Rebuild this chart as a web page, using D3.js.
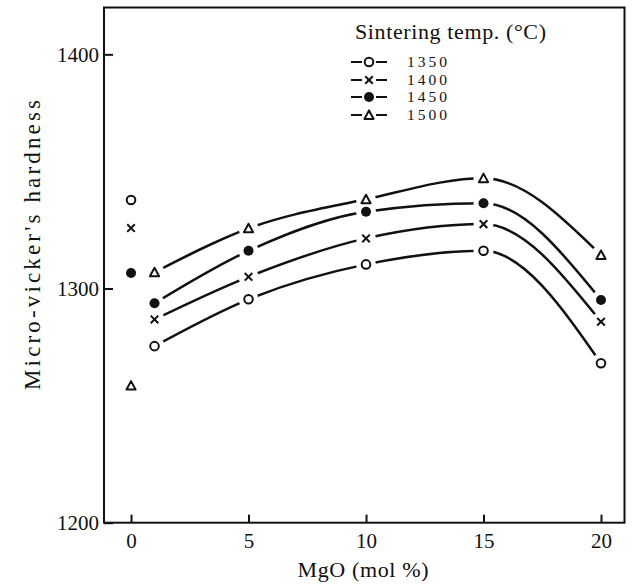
<!DOCTYPE html>
<html><head><meta charset="utf-8">
<script src="https://cdn.jsdelivr.net/npm/d3@7"></script>
<style>body{margin:0;background:#fff}svg{display:block}text{font-family:"Liberation Serif","DejaVu Serif",serif;fill:#111}</style>
</head><body>
<script>
// Data
const mgo = [0, 1, 5, 10, 15, 20];
const temps = ["1350", "1400", "1450", "1500"];
const symbols = ["circle", "cross", "dot", "triangle"];
const h1350 = [1337.8, 1275.4, 1295.4, 1310.3, 1316.1, 1268.1];
const h1400 = [1325.8, 1286.8, 1305.0, 1321.4, 1327.5, 1285.8];
const h1450 = [1306.6, 1293.7, 1316.1, 1332.8, 1336.4, 1295.1];
const h1500 = [1258.5, 1306.9, 1325.7, 1338.1, 1347.1, 1314.3];
const xTicks = [0, 5, 10, 15, 20];
const yTicks = [1200, 1300, 1400];
const series = [h1350, h1400, h1450, h1500];

const W = 633, H = 586;
const svg = d3.select("body").append("svg").attr("width", W).attr("height", H);
const x = d3.scaleLinear().domain([-1.15, 21.0]).range([104, 624.5]);
const y = d3.scaleLinear().domain([1200, 1420]).range([522.7, 7.5]);

const defs = svg.append("defs");
const ink = "#111";

// frame
svg.append("rect").attr("x", x.range()[0]).attr("y", y.range()[1])
  .attr("width", x.range()[1]-x.range()[0]).attr("height", y.range()[0]-y.range()[1])
  .attr("fill", "none").attr("stroke", ink).attr("stroke-width", 2);

// axes (ticks inward)
const xAxis = d3.axisBottom(x).tickValues(xTicks).tickSizeInner(-8).tickSizeOuter(0).tickPadding(10);
const gx = svg.append("g").attr("transform", `translate(0,${y(1200)})`).call(xAxis);
gx.select(".domain").remove();
gx.selectAll("line").attr("stroke", ink).attr("stroke-width", 2);
gx.selectAll("text").attr("font-size", 21).attr("font-family", "Liberation Serif").attr("fill", ink);

const yAxis = d3.axisLeft(y).tickValues(yTicks).tickFormat(d3.format("d")).tickSizeInner(-9).tickSizeOuter(0).tickPadding(5);
const gy = svg.append("g").attr("transform", `translate(${x.range()[0]},0)`).call(yAxis);
gy.select(".domain").remove();
gy.selectAll("line").attr("stroke", ink).attr("stroke-width", 2);
gy.selectAll("text").attr("font-size", 21).attr("font-family", "Liberation Serif").attr("fill", ink);

// axis titles
svg.append("text").attr("x", 363).attr("y", 577).attr("text-anchor", "middle")
  .attr("font-size", 22).attr("textLength", 131).attr("lengthAdjust", "spacing").text("MgO (mol %)");
svg.append("text").attr("transform", `translate(40,${245}) rotate(-90)`).attr("text-anchor", "middle")
  .attr("font-size", 23).attr("textLength", 290).attr("lengthAdjust", "spacing").text("Micro-vicker's hardness");

// marker drawing
function marker(g, type, cx, cy) {
  if (type === "circle") {
    g.append("circle").attr("cx", cx).attr("cy", cy).attr("r", 4.3).attr("fill", "#fff").attr("stroke", ink).attr("stroke-width", 2);
  } else if (type === "dot") {
    g.append("circle").attr("cx", cx).attr("cy", cy).attr("r", 5).attr("fill", ink);
  } else if (type === "cross") {
    const s = 3.8;
    g.append("path").attr("d", `M${cx-s},${cy-s}L${cx+s},${cy+s}M${cx-s},${cy+s}L${cx+s},${cy-s}`)
      .attr("stroke", ink).attr("stroke-width", 2).attr("fill", "none");
  } else {
    const s = 4.6;
    g.append("path").attr("d", `M${cx},${cy-s}L${cx+s},${cy+s*0.85}L${cx-s},${cy+s*0.85}Z`)
      .attr("stroke", ink).attr("stroke-width", 2).attr("fill", "#fff").attr("stroke-linejoin", "round");
  }
}

const line = d3.line().x(d => x(d[0])).y(d => y(d[1])).curve(d3.curveMonotoneX);

series.forEach((vals, i) => {
  const pts = mgo.map((m, j) => [m, vals[j]]);
  const curvePts = pts.filter(p => p[0] >= 1);
  const mask = defs.append("mask").attr("id", "m" + i).attr("maskUnits", "userSpaceOnUse")
    .attr("x", 0).attr("y", 0).attr("width", W).attr("height", H);
  mask.append("rect").attr("width", W).attr("height", H).attr("fill", "#fff");
  curvePts.forEach(p => mask.append("circle").attr("cx", x(p[0])).attr("cy", y(p[1])).attr("r", 10).attr("fill", "#000"));
  svg.append("path").datum(curvePts).attr("d", line).attr("fill", "none")
    .attr("stroke", ink).attr("stroke-width", 2.5).attr("mask", `url(#m${i})`);
  const g = svg.append("g");
  pts.forEach(p => marker(g, symbols[i], x(p[0]), y(p[1])));
});

// legend
svg.append("text").attr("x", 355).attr("y", 39).attr("font-size", 22)
  .attr("textLength", 191).attr("lengthAdjust", "spacing").text("Sintering temp. (°C)");
const legRows = [62, 80, 97, 115];
temps.forEach((t, i) => {
  const ly = legRows[i];
  const g = svg.append("g");
  g.append("line").attr("x1", 351).attr("x2", 362).attr("y1", ly).attr("y2", ly).attr("stroke", ink).attr("stroke-width", 2);
  g.append("line").attr("x1", 376).attr("x2", 387).attr("y1", ly).attr("y2", ly).attr("stroke", ink).attr("stroke-width", 2);
  marker(g, symbols[i], 369, ly);
  g.append("text").attr("x", 407).attr("y", ly + 5).attr("font-size", 15.5)
    .attr("textLength", 40).attr("lengthAdjust", "spacing").text(t);
});
</script>
</body></html>
